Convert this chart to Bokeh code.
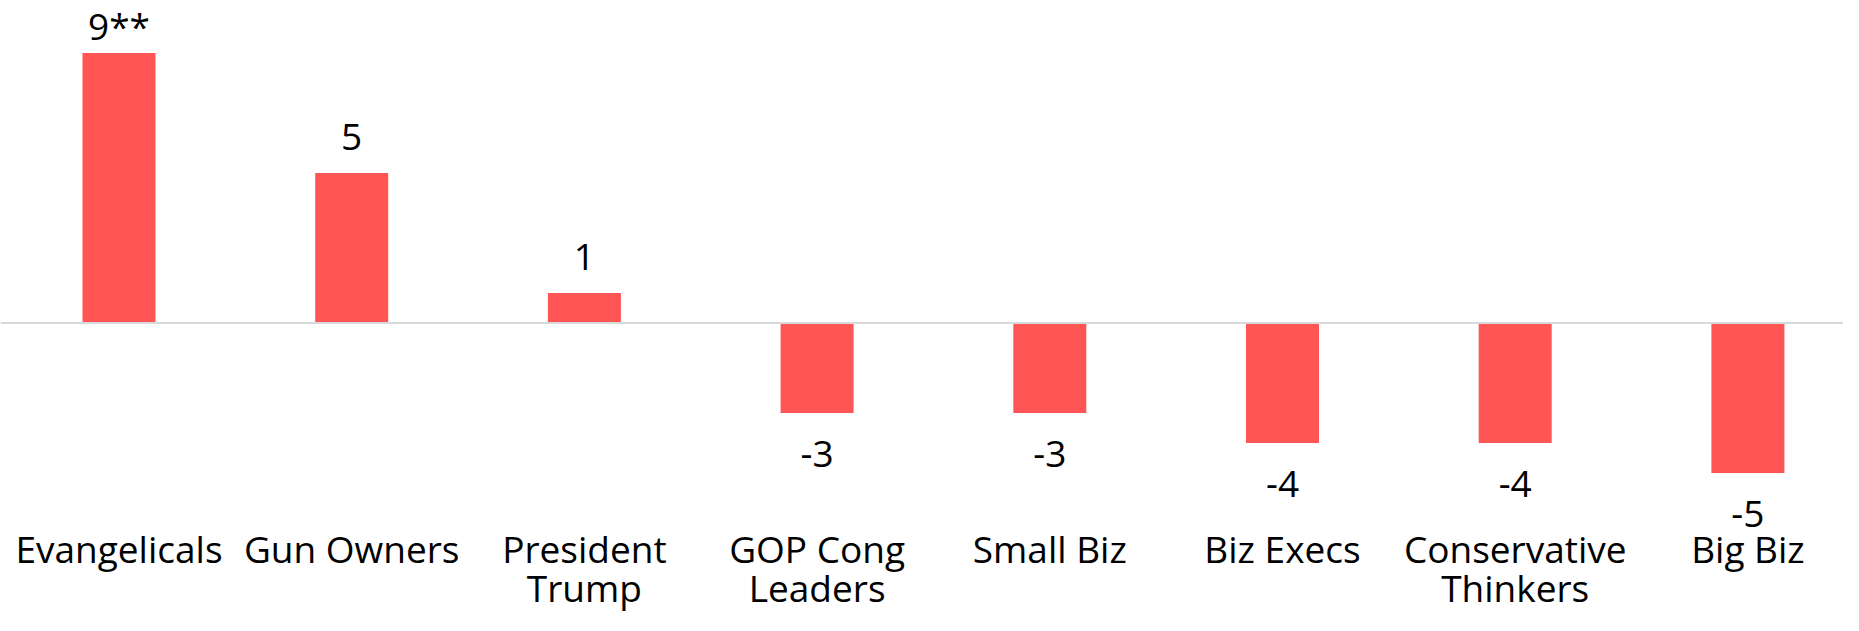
from bokeh.plotting import figure
from bokeh.models import ColumnDataSource, Range1d, Span
from bokeh.core.properties import value
from bokeh.embed import file_html
from bokeh.resources import INLINE

# ---- data ----
categories = ["Evangelicals", "Gun Owners", "President\nTrump", "GOP Cong\nLeaders",
              "Small Biz", "Biz Execs", "Conservative\nThinkers", "Big Biz"]
values = [9, 5, 1, -3, -3, -4, -4, -5]
value_labels = ["9**", "5", "1", "-3", "-3", "-4", "-4", "-5"]

# ---- layout constants (pixels) ----
W, H = 1843, 615
PX_PER_CAT = 232.7
FIRST_CENTER_PX = 118.5
ZERO_PX = 322.5
PX_PER_UNIT = 30.0
BASE_FIX = 13.5          # renderer places alphabetic baseline this much lower
FONT = "Open Sans"
FSIZE = "37px"
BAR_COLOR = "#FF5555"

x_start = -FIRST_CENTER_PX / PX_PER_CAT
x_end = x_start + W / PX_PER_CAT
y_top = ZERO_PX / PX_PER_UNIT
y_bottom = -(H - ZERO_PX) / PX_PER_UNIT

def py(px):
    return (ZERO_PX - px) / PX_PER_UNIT

xs = list(range(len(categories)))

p = figure(width=W, height=H, output_backend="svg", toolbar_location=None,
           x_range=Range1d(x_start, x_end), y_range=Range1d(y_bottom, y_top),
           min_border=0, min_border_left=0, min_border_right=0,
           min_border_top=0, min_border_bottom=0)
p.xaxis.visible = False
p.yaxis.visible = False
p.xgrid.visible = False
p.ygrid.visible = False
p.outline_line_color = None
p.background_fill_color = "white"
p.border_fill_color = "white"

# zero line
p.add_layout(Span(location=0, dimension="width", line_color="#D9D9D9", line_width=2))

src = ColumnDataSource(dict(x=xs, top=values, bottom=[0] * len(values)))
p.vbar(x="x", top="top", bottom="bottom", width=0.3137, source=src,
       fill_color=BAR_COLOR, line_color=None)

# value labels
top_limit = py(38 - BASE_FIX)
lab_y = []
for v in values:
    if v >= 0:
        lab_y.append(min(v + (23 + BASE_FIX) / PX_PER_UNIT, top_limit))
    else:
        lab_y.append(v - (54 - BASE_FIX) / PX_PER_UNIT)
lsrc = ColumnDataSource(dict(x=xs, y=lab_y, t=value_labels))
p.text(x="x", y="y", text="t", source=lsrc, text_font=value(FONT),
       text_font_size=FSIZE, text_align="center", text_baseline="alphabetic",
       text_color="black")

# category labels (two lines max)
line1 = [c.split("\n")[0] for c in categories]
line2 = [c.split("\n")[1] if "\n" in c else "" for c in categories]
c1 = ColumnDataSource(dict(x=xs, y=[py(561 - BASE_FIX)] * len(xs), t=line1))
c2 = ColumnDataSource(dict(x=xs, y=[py(600 - BASE_FIX)] * len(xs), t=line2))
for s in (c1, c2):
    p.text(x="x", y="y", text="t", source=s, text_font=value(FONT),
           text_font_size=FSIZE, text_align="center", text_baseline="alphabetic",
           text_color="black")

open("out.html", "w").write(file_html(p, INLINE))
